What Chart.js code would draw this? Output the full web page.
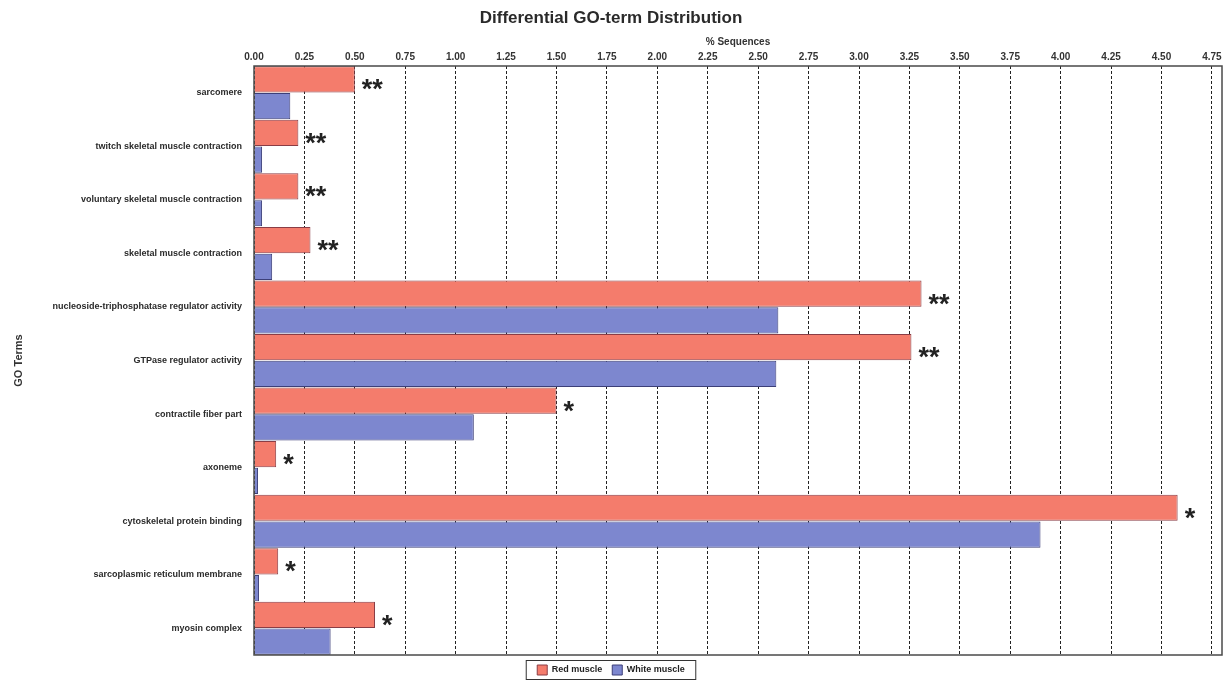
<!DOCTYPE html>
<html>
<head>
<meta charset="utf-8">
<script src="https://cdn.jsdelivr.net/npm/chart.js@4.4.0/dist/chart.umd.min.js"></script>
<style>
  html, body { margin: 0; padding: 0; background: #fff; overflow: hidden; }
  #wrap { width: 1226px; height: 681px; position: relative; overflow: hidden; }
</style>
</head>
<body>
<div id="wrap"><canvas id="c" width="1226" height="685"></canvas></div>
<script>
const categories = [
  "sarcomere",
  "twitch skeletal muscle contraction",
  "voluntary skeletal muscle contraction",
  "skeletal muscle contraction",
  "nucleoside-triphosphatase regulator activity",
  "GTPase regulator activity",
  "contractile fiber part",
  "axoneme",
  "cytoskeletal protein binding",
  "sarcoplasmic reticulum membrane",
  "myosin complex"
];
const redMuscle   = [0.50, 0.22, 0.22, 0.28, 3.31, 3.26, 1.50, 0.11, 4.58, 0.12, 0.60];
const whiteMuscle = [0.18, 0.04, 0.04, 0.09, 2.60, 2.59, 1.09, 0.02, 3.90, 0.025, 0.38];
const significance = ["**", "**", "**", "**", "**", "**", "*", "*", "*", "*", "*"];

const FONT = "'Liberation Sans', Arial, sans-serif";

const framePlugin = {
  id: 'frame',
  afterDatasetsDraw(chart) {
    const { ctx, chartArea: a } = chart;
    ctx.save();
    ctx.strokeStyle = '#4a4a4a';
    ctx.lineWidth = 1.5;
    ctx.strokeRect(a.left, a.top, a.right - a.left, a.bottom - a.top);
    ctx.restore();
  }
};

const starPlugin = {
  id: 'stars',
  afterDatasetsDraw(chart) {
    const { ctx } = chart;
    const meta = chart.getDatasetMeta(0);
    ctx.save();
    ctx.fillStyle = '#222';
    ctx.font = 'bold 27px ' + FONT;
    ctx.textAlign = 'left';
    ctx.textBaseline = 'alphabetic';
    meta.data.forEach((el, i) => {
      ctx.fillText(significance[i], el.x + 7, el.y + 19);
    });
    ctx.restore();
  }
};

const legendBoxPlugin = {
  id: 'legendBox',
  afterDraw(chart) {
    const lg = chart.legend;
    if (!lg || !lg.legendHitBoxes || !lg.legendHitBoxes.length) return;
    const boxes = lg.legendHitBoxes;
    let l = Infinity, r = -Infinity, t = Infinity, b = -Infinity;
    boxes.forEach(h => {
      l = Math.min(l, h.left); r = Math.max(r, h.left + h.width);
      t = Math.min(t, h.top); b = Math.max(b, h.top + h.height);
    });
    const ctx = chart.ctx;
    ctx.save();
    ctx.strokeStyle = '#333';
    ctx.lineWidth = 1;
    ctx.strokeRect(l - 11, t - 4.5, (r - l) + 22, (b - t) + 9);
    ctx.restore();
  }
};

new Chart(document.getElementById('c'), {
  type: 'bar',
  data: {
    labels: categories,
    datasets: [
      {
        label: 'Red muscle',
        data: redMuscle,
        backgroundColor: '#f47c6c',
        borderColor: '#8a3d45',
        borderWidth: 1,
        barPercentage: 0.98,
        categoryPercentage: 1.0
      },
      {
        label: 'White muscle',
        data: whiteMuscle,
        backgroundColor: '#7d87cf',
        borderColor: '#3c3f78',
        borderWidth: 1,
        barPercentage: 0.98,
        categoryPercentage: 1.0
      }
    ]
  },
  options: {
    indexAxis: 'y',
    responsive: false,
    animation: false,
    devicePixelRatio: 1,
    layout: { padding: { left: 0, right: 4, top: 0, bottom: 0 } },
    plugins: {
      title: {
        display: true,
        text: 'Differential GO-term Distribution',
        color: '#2a2a2a',
        font: { family: FONT, size: 17, weight: 'bold' },
        padding: { top: 8, bottom: 6 }
      },
      legend: {
        display: true,
        position: 'bottom',
        labels: {
          color: '#222',
          font: { family: FONT, size: 9, weight: 'bold' },
          boxWidth: 10,
          boxHeight: 10,
          padding: 10
        }
      },
      tooltip: { enabled: false }
    },
    scales: {
      x: {
        position: 'top',
        min: 0,
        max: 4.8,
        ticks: {
          stepSize: 0.25,
          includeBounds: false,
          color: '#333',
          font: { family: FONT, size: 10, weight: 'bold' },
          padding: 3,
          callback: v => Number(v).toFixed(2)
        },
        grid: {
          color: '#222',
          lineWidth: 1,
          drawTicks: false
        },
        border: { display: false, dash: [3, 2] },
        title: {
          display: true,
          text: '% Sequences',
          color: '#333',
          font: { family: FONT, size: 10, weight: 'bold' },
          padding: { top: 2, bottom: 1 }
        },
        afterFit(scale) { scale.height = 31.6; }
      },
      y: {
        ticks: {
          color: '#2a2a2a',
          font: { family: FONT, size: 9, weight: 'bold' },
          padding: 4
        },
        grid: { display: false },
        border: { display: false },
        title: {
          display: true,
          text: 'GO Terms',
          color: '#333',
          font: { family: FONT, size: 11, weight: 'bold' },
          padding: { top: 12, bottom: 0 }
        },
        afterFit(scale) { scale.width = 254; }
      }
    }
  },
  plugins: [framePlugin, starPlugin, legendBoxPlugin]
});
</script>
</body>
</html>
